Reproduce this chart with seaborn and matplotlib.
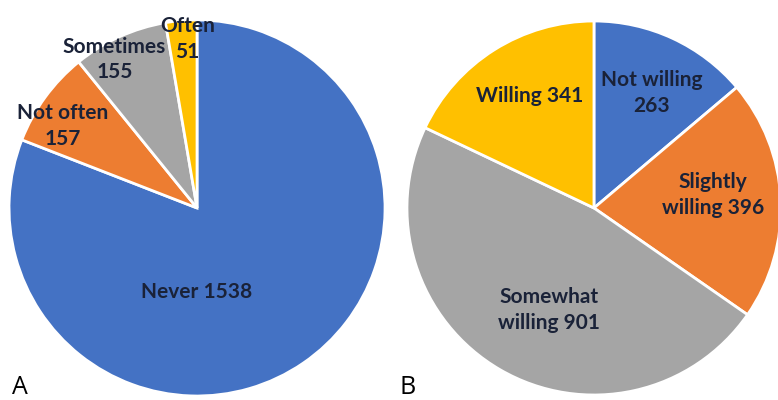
import matplotlib
matplotlib.use("Agg")
import matplotlib.pyplot as plt
import seaborn as sns

# Panel A: frequency
freq_labels = ["Never", "Not often", "Sometimes", "Often"]
freq_counts = [1538, 157, 155, 51]

# Panel B: willingness
will_labels = ["Not willing", "Slightly willing", "Somewhat willing", "Willing"]
will_counts = [263, 396, 901, 341]

sns.set_theme(style="white")
plt.rcParams['font.family'] = ['Lato', 'DejaVu Sans']

office = sns.color_palette(["#4472C4", "#ED7D31", "#A5A5A5", "#FFC000"])

fig = plt.figure(figsize=(7.78, 4.0), dpi=100)

# label text layout (in units of the pie radius)
freq_text = ["Never 1538", "Not often\n157", "Sometimes\n155", "Often\n51"]
freq_pos = [(0.0, -0.447), (-0.713, 0.436), (-0.44, 0.79), (-0.05, 0.90)]
will_text = ["Not willing\n263", "Slightly\nwilling 396", "Somewhat\nwilling 901", "Willing 341"]
will_pos = [(0.31, 0.615), (0.636, 0.07), (-0.24, -0.545), (-0.342, 0.599)]
text_col = "#1a2238"


def draw_pie(rect, counts, texts, positions):
    ax = fig.add_axes(rect)
    ax.pie(counts, colors=office, startangle=90, counterclock=False,
           wedgeprops=dict(edgecolor="white", linewidth=2))
    for t, (x, y) in zip(texts, positions):
        ax.text(x, y, t, ha="center", va="center", fontsize=15,
                fontweight="bold", color=text_col, linespacing=1.35)
    ax.set_xlim(-1.0, 1.0)
    ax.set_ylim(-1.0, 1.0)
    ax.set_aspect("equal")
    ax.axis("off")
    return ax


draw_pie([0.0116, 0.01, 0.4833, 0.94], freq_counts, freq_text, freq_pos)
draw_pie([0.5231, 0.0125, 0.4807, 0.935], will_counts, will_text, will_pos)

fig.text(0.016, 0.016, "A", fontsize=18, color="black", family=["Open Sans", "DejaVu Sans"])
fig.text(0.513, 0.016, "B", fontsize=18, color="black", family=["Open Sans", "DejaVu Sans"])

fig.savefig("out.png", dpi=100)
